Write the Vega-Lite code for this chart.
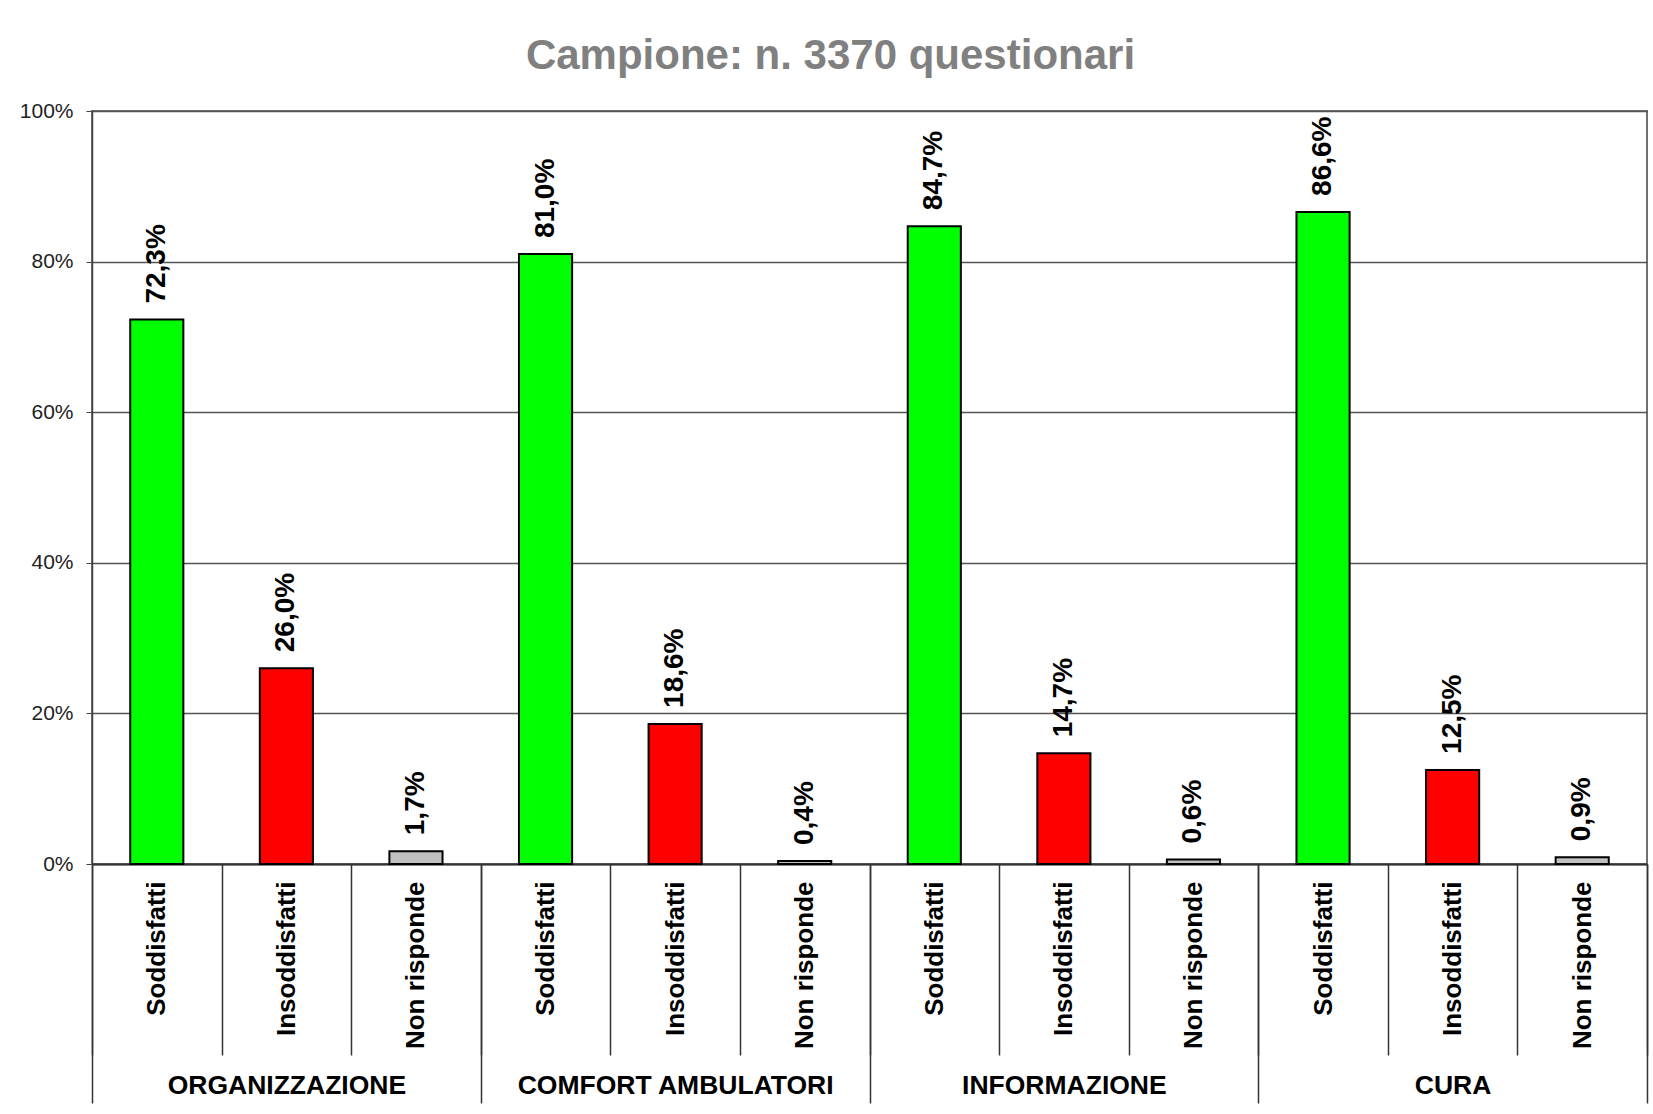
{
  "$schema": "https://vega.github.io/schema/vega-lite/v6.json",
  "width": 1555,
  "height": 753,
  "autosize": {"type": "none"},
  "padding": {"left": 92, "top": 111, "right": 6, "bottom": 250},
  "background": "white",
  "config": {
    "locale": {"number": {"decimal": ",", "thousands": ".", "grouping": [3], "currency": ["€", ""]}},
    "font": "Liberation Sans",
    "view": {"stroke": "#707070", "strokeWidth": 2}
  },
  "title": {
    "text": "Campione: n. 3370 questionari",
    "fontSize": 42,
    "fontWeight": "bold",
    "color": "#808080",
    "font": "Liberation Sans",
    "anchor": "middle",
    "dx": -39,
    "dy": 47,
    "offset": 27,
    "baseline": "bottom"
  },
  "data": {
    "values": [
      {"chiave": "ORGANIZZAZIONE|Soddisfatti", "gruppo": "ORGANIZZAZIONE", "risposta": "Soddisfatti", "valore": 0.723},
      {"chiave": "ORGANIZZAZIONE|Insoddisfatti", "gruppo": "ORGANIZZAZIONE", "risposta": "Insoddisfatti", "valore": 0.260},
      {"chiave": "ORGANIZZAZIONE|Non risponde", "gruppo": "ORGANIZZAZIONE", "risposta": "Non risponde", "valore": 0.017},
      {"chiave": "COMFORT AMBULATORI|Soddisfatti", "gruppo": "COMFORT AMBULATORI", "risposta": "Soddisfatti", "valore": 0.810},
      {"chiave": "COMFORT AMBULATORI|Insoddisfatti", "gruppo": "COMFORT AMBULATORI", "risposta": "Insoddisfatti", "valore": 0.186},
      {"chiave": "COMFORT AMBULATORI|Non risponde", "gruppo": "COMFORT AMBULATORI", "risposta": "Non risponde", "valore": 0.004},
      {"chiave": "INFORMAZIONE|Soddisfatti", "gruppo": "INFORMAZIONE", "risposta": "Soddisfatti", "valore": 0.847},
      {"chiave": "INFORMAZIONE|Insoddisfatti", "gruppo": "INFORMAZIONE", "risposta": "Insoddisfatti", "valore": 0.147},
      {"chiave": "INFORMAZIONE|Non risponde", "gruppo": "INFORMAZIONE", "risposta": "Non risponde", "valore": 0.006},
      {"chiave": "CURA|Soddisfatti", "gruppo": "CURA", "risposta": "Soddisfatti", "valore": 0.866},
      {"chiave": "CURA|Insoddisfatti", "gruppo": "CURA", "risposta": "Insoddisfatti", "valore": 0.125},
      {"chiave": "CURA|Non risponde", "gruppo": "CURA", "risposta": "Non risponde", "valore": 0.009}
    ]
  },
  "encoding": {
    "y": {
      "field": "valore",
      "type": "quantitative",
      "scale": {"domain": [0, 1]},
      "axis": {
        "title": null,
        "values": [0, 0.2, 0.4, 0.6, 0.8, 1],
        "format": ".0%",
        "labelFontSize": 21,
        "labelColor": "#222222",
        "labelFont": "Liberation Sans",
        "tickSize": 6,
        "tickColor": "#444444",
        "labelPadding": 13,
        "domainColor": "#444444",
        "domainWidth": 1.5,
        "grid": true,
        "gridColor": "#555555",
        "gridWidth": 1.5
      }
    }
  },
  "layer": [
    {
      "encoding": {
        "x": {
          "field": "chiave",
          "type": "nominal",
          "sort": null,
          "scale": {"paddingInner": 0, "paddingOuter": 0},
          "axis": {
            "title": null,
            "labelAngle": -90,
            "labelAlign": "right",
            "labelBaseline": "middle",
            "labelExpr": "split(datum.label, '|')[1]",
            "labelFontSize": 26,
            "labelFontWeight": "bold",
            "labelColor": "black",
            "labelFont": "Liberation Sans",
            "labelLimit": 0,
            "tickBand": "extent",
            "tickSize": 191,
            "tickColor": "#333333",
            "tickWidth": 1.5,
            "labelPadding": -174,
            "domainColor": "#333333",
            "domainWidth": 2,
            "grid": false
          }
        }
      },
      "layer": [
        {
          "mark": {"type": "bar", "width": {"band": 0.41}, "stroke": "black", "strokeWidth": 2},
          "encoding": {
            "color": {
              "field": "risposta",
              "type": "nominal",
              "scale": {"domain": ["Soddisfatti", "Insoddisfatti", "Non risponde"], "range": ["#00FF00", "#FF0000", "#C0C0C0"]},
              "legend": null
            }
          }
        },
        {
          "mark": {"type": "text", "angle": 270, "align": "left", "baseline": "middle", "dx": 16, "fontSize": 28, "fontWeight": "bold", "font": "Liberation Sans", "color": "black"},
          "encoding": {
            "text": {"field": "valore", "type": "quantitative", "format": ".1%"}
          }
        }
      ]
    },
    {
      "mark": {"type": "point", "opacity": 0},
      "encoding": {
        "x": {
          "field": "gruppo",
          "type": "nominal",
          "sort": null,
          "scale": {"paddingInner": 0, "paddingOuter": 0},
          "axis": {
            "orient": "bottom",
            "offset": 0,
            "title": null,
            "labelAngle": 0,
            "labelAlign": "center",
            "labelBaseline": "top",
            "labelLimit": 0,
            "tickBand": "extent",
            "tickSize": 239,
            "tickColor": "#333333",
            "tickWidth": 1.5,
            "labelPadding": -31,
            "labelFontSize": 26.5,
            "labelFontWeight": "bold",
            "labelColor": "black",
            "labelFont": "Liberation Sans",
            "domain": false,
            "grid": false
          }
        }
      }
    }
  ],
  "resolve": {"scale": {"x": "independent"}, "axis": {"x": "independent"}}
}
